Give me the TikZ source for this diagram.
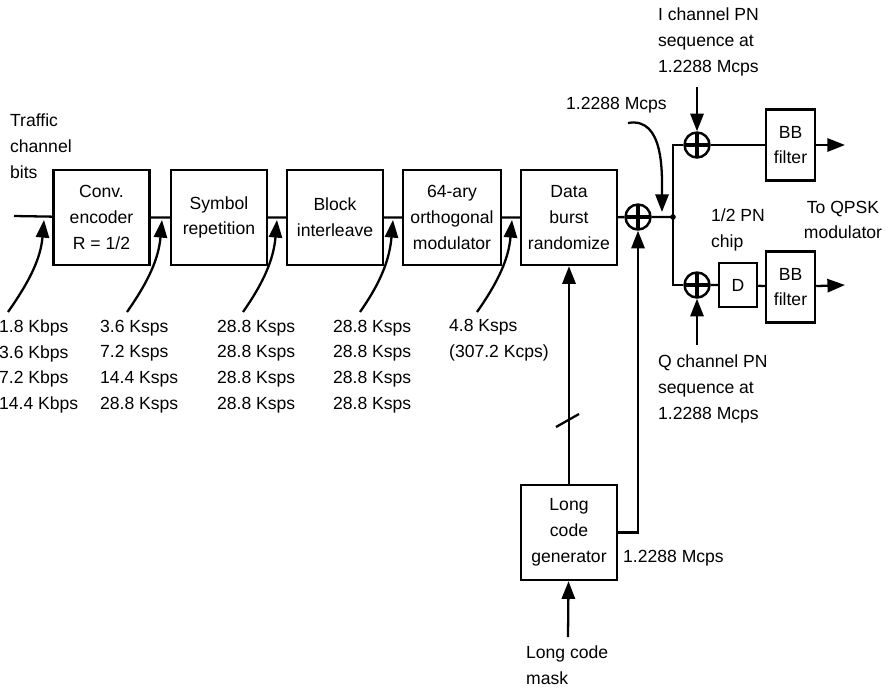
\documentclass[tikz,border=0pt]{standalone}
\usepackage{fontspec}
\setmainfont{Liberation Sans}
\usetikzlibrary{arrows.meta}

\begin{document}
\begin{tikzpicture}[x=0.2mm, y=-0.2mm, line width=1.3pt,
    >={Triangle[length=10pt, width=7.5pt]},
    font=\fontsize{10}{14.7}\selectfont,
    blk/.style={draw, line width=1.4pt, minimum width=1.92cm, minimum height=1.9cm, align=center, inner sep=1pt},
    bbf/.style={draw, line width=1.4pt, minimum width=0.98cm, minimum height=1.42cm, align=center, inner sep=1pt},
    xor/.style={draw, circle, line width=1.4pt, minimum size=0.5cm, inner sep=0pt,
        path picture={\draw[line width=2.2pt] (path picture bounding box.north) -- (path picture bounding box.south)
            (path picture bounding box.west) -- (path picture bounding box.east);}},
    lbl/.style={align=left, anchor=west, inner sep=0pt}]
    \useasboundingbox (0, 0) rectangle (896, 689);

    \node[blk] at (101.5, 217.5) (enc) {Conv.\\encoder\\R = 1/2};
    \node[blk] at (219, 217.5) (rep) {Symbol\\repetition};
    \node[blk] at (335, 217.5) (intl) {Block\\interleave};
    \node[blk, minimum width=1.96cm] at (452, 217.5) (mod) {64-ary\\orthogonal\\modulator};
    \node[blk] at (569, 217.5) (rand) {Data\\burst\\randomize};
    \node[blk] at (569, 532.5) (lcg) {Long\\code\\generator};

    \node[xor] at (638, 217) (xm) {};
    \node[xor] at (697, 145) (xi) {};
    \node[xor] at (697, 285) (xq) {};
    \node[draw, line width=1.4pt, minimum width=0.76cm, minimum height=0.88cm] at (738, 285) (dly) {D};
    \node[bbf] at (790.5, 145) (bbi) {BB\\filter};
    \node[bbf] at (790.5, 287) (bbq) {BB\\filter};

    \coordinate (in) at (14, 216);
    \coordinate (jn) at (673, 217);
    \coordinate (outi) at (845, 145);
    \coordinate (outq) at (845, 285);
    \coordinate (ipn) at (697, 87);
    \coordinate (qpn) at (697, 345);
    \coordinate (mask) at (568, 637);

    \draw (in) -- (enc) -- (rep) -- (intl) -- (mod) -- (rand) -- (xm) -- (jn);
    \fill (jn) circle (1.6pt);
    \draw (xi.west) -| (jn) |- (xq.west);
    \draw[->] (xi) -- (bbi) -- (outi);
    \draw[->] (xq) -- (dly) -- (bbq) -- (outq);
    \draw[->] (ipn) -- (xi);
    \draw[->] (qpn) -- (xq);

    \draw[->] (lcg) -- (rand);
    \draw (567.5, 420.5) ++(-11.5, 6.5) -- ++(23, -13);
    \draw[->] (lcg.east) -| (xm);
    \draw[->] (mask) -- (lcg);

    \draw[->] (8, 312) to[out=55, in=-95] (44, 220);
    \draw[->] (127, 312) to[out=55, in=-95] (162, 220);
    \draw[->] (243, 312) to[out=55, in=-95] (277, 220);
    \draw[->] (360, 312) to[out=55, in=-95] (393, 220);
    \draw[->] (477, 312) to[out=55, in=-95] (512, 220);
    \draw[->] (628, 123) to[out=10, in=90] (662, 212);

    \node[lbl] at (9, 146) (trf) {Traffic\\channel\\bits};
    \node[lbl] at (-2, 366.5) (r1) {1.8 Kbps\\3.6 Kbps\\7.2 Kbps\\14.4 Kbps};
    \node[lbl] at (99, 366.5) (r2) {3.6 Ksps\\7.2 Ksps\\14.4 Ksps\\28.8 Ksps};
    \node[lbl] at (216, 366.5) (r3) {28.8 Ksps\\28.8 Ksps\\28.8 Ksps\\28.8 Ksps};
    \node[lbl] at (332, 366.5) (r4) {28.8 Ksps\\28.8 Ksps\\28.8 Ksps\\28.8 Ksps};
    \node[lbl] at (448, 340) (r5) {4.8 Ksps\\(307.2 Kcps)};
    \node[lbl] at (565, 105) (chr) {1.2288 Mcps};
    \node[lbl] at (657, 42) (ilbl) {I channel PN\\sequence at\\1.2288 Mcps};
    \node[lbl] at (657, 389) (qlbl) {Q channel PN\\sequence at\\1.2288 Mcps};
    \node[lbl] at (710, 230) (half) {1/2 PN\\chip};
    \node[align=center, inner sep=0pt] at (843, 220) (qpsk) {To QPSK\\modulator};
    \node[lbl] at (622, 558) (lcr) {1.2288 Mcps};
    \node[lbl] at (525, 665.5) (mlbl) {Long code\\mask};
\end{tikzpicture}
\end{document}
